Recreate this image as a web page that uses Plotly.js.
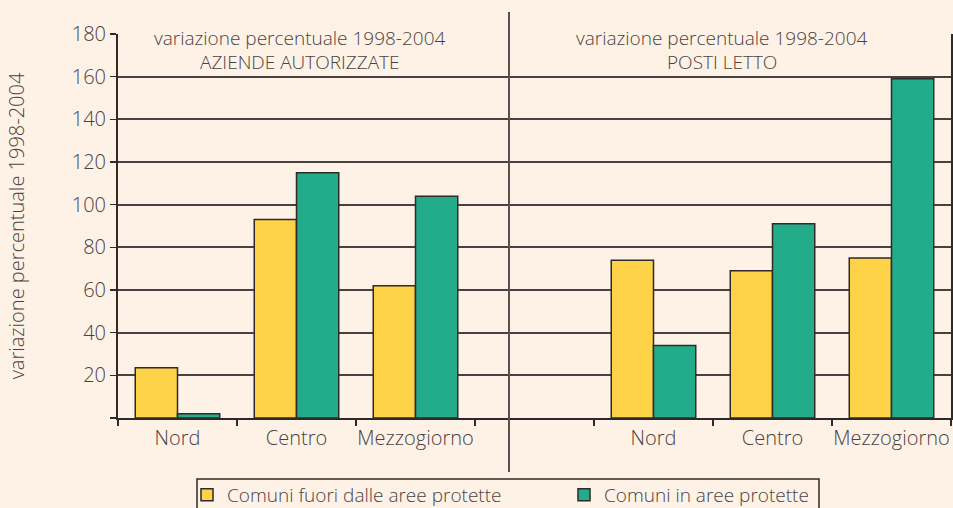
<!DOCTYPE html>
<html>
<head>
<meta charset="utf-8">
<script src="https://cdn.plot.ly/plotly-3.0.1.min.js"></script>
<style>html,body{margin:0;padding:0;background:#FEF2E6;}#chart{width:953px;height:508px;}</style>
</head>
<body>
<div id="chart"></div>
<script>
// Data
const categories = ['Nord', 'Centro', 'Mezzogiorno', '', 'Nord', 'Centro', 'Mezzogiorno'];
const fuoriAree = [23.5, 93, 62, null, 74, 69, 75];
const inAree = [2, 115, 104, null, 34, 91, 159];
const seriesNames = ['Comuni fuori dalle aree protette', 'Comuni in aree protette'];
const panelTitles = [
  ['variazione percentuale 1998-2004', 'AZIENDE AUTORIZZATE'],
  ['variazione percentuale 1998-2004', 'POSTI LETTO']
];
const yTickVals = [0, 20, 40, 60, 80, 100, 120, 140, 160, 180];
const yTickText = ['', '20', '40', '60', '80', '100', '120', '140', '160', '180'];
const yAxisTitle = 'variazione percentuale 1998-2004';

const xPos = categories.map((_, i) => i);
const boundaries = [-0.5].concat(categories.map((_, i) => i + 0.5));
const gridVals = yTickVals.slice(1, -1);

const FONT = '"Open Sans", Lato, sans-serif';
const TXT = '#4a4242';
const DARK = '#2e2a2a';
const W = 833, H = 384, L = 118, B = 418;
const px = v => (v - L) / W;
const py = v => (B - v) / H;

const traces = [
  {type: 'bar', x: xPos, y: fuoriAree, name: seriesNames[0], legend: 'legend',
   marker: {color: '#FED347', line: {color: DARK, width: 1.5}}, hoverinfo: 'y'},
  {type: 'bar', x: xPos, y: inAree, name: seriesNames[1], legend: 'legend2',
   marker: {color: '#22AC89', line: {color: DARK, width: 1.5}}, hoverinfo: 'y'}
];

const annotations = [];
[300, 722].forEach((cx, k) => {
  panelTitles[k].forEach((t, j) => {
    annotations.push({xref: 'paper', yref: 'paper',
      x: px(cx), y: py(38 + j * 24),
      text: t, showarrow: false, xanchor: 'center', yanchor: 'middle',
      font: {family: FONT, size: 19, color: TXT, weight: 300}});
  });
});

const legendBase = {orientation: 'h', xanchor: 'left', y: py(476), yanchor: 'top',
  borderwidth: 0, bgcolor: 'rgba(0,0,0,0)',
  font: {family: FONT, size: 19, color: TXT, weight: 300}};

const layout = {
  width: 953, height: 508,
  paper_bgcolor: '#FEF2E6', plot_bgcolor: '#FEF2E6',
  margin: {l: 118, r: 2, t: 34, b: 90, autoexpand: false},
  font: {family: FONT, color: TXT, size: 18, weight: 300},
  barmode: 'group', bargap: 0.29, bargroupgap: 0,
  showlegend: true,
  legend: Object.assign({x: px(187)}, legendBase),
  legend2: Object.assign({x: px(564)}, legendBase),
  xaxis: {
    range: [-0.5, 6.5], tickmode: 'array', tickvals: xPos, ticktext: categories,
    ticks: '', showgrid: false, zeroline: false,
    showline: true, linecolor: DARK, linewidth: 2,
    ticklabelstandoff: 1,
    tickfont: {family: FONT, size: 20, color: TXT, weight: 300},
    minor: {tickmode: 'array', tickvals: boundaries, ticks: 'outside', ticklen: 6,
      tickwidth: 1.5, tickcolor: DARK, showgrid: false}
  },
  yaxis: {
    range: [0, 180], tickmode: 'array', tickvals: yTickVals, ticktext: yTickText,
    ticks: 'outside', ticklen: 6, tickwidth: 1.5, tickcolor: DARK,
    showgrid: false, zeroline: false,
    showline: true, linecolor: DARK, linewidth: 2, mirror: true,
    tickfont: {family: FONT, size: 20, color: TXT, weight: 300},
    title: {text: yAxisTitle, standoff: 42, font: {family: FONT, size: 20, color: TXT, weight: 300}},
    minor: {tickmode: 'array', tickvals: gridVals, ticks: '', showgrid: true,
      gridcolor: '#474141', gridwidth: 2}
  },
  shapes: [
    {type: 'line', xref: 'paper', yref: 'paper',
     x0: px(509), x1: px(509), y0: py(472), y1: py(12),
     line: {color: '#5a5050', width: 2}},
    {type: 'rect', xref: 'paper', yref: 'paper',
     x0: px(197), x1: px(819), y0: py(479), y1: py(520),
     line: {color: DARK, width: 1.5}, fillcolor: 'rgba(0,0,0,0)'}
  ],
  annotations: annotations
};

Plotly.newPlot('chart', traces, layout, {displayModeBar: false, staticPlot: true});
</script>
</body>
</html>
